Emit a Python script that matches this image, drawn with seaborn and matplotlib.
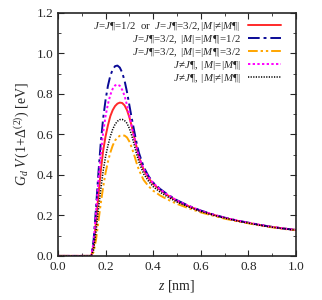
import numpy as np
import pandas as pd
import seaborn as sns
import matplotlib
matplotlib.use("Agg")
import matplotlib.pyplot as plt
from matplotlib.ticker import MultipleLocator, FormatStrFormatter

# valores
z = [0.0, 0.14, 0.15, 0.16, 0.17, 0.18, 0.19, 0.20, 0.21, 0.22, 0.23, 0.24, 0.25,
     0.26, 0.27, 0.28, 0.29, 0.30, 0.31, 0.32, 0.33, 0.34, 0.36, 0.38, 0.40, 0.43,
     0.46, 0.50, 0.55, 0.60, 0.65, 0.70, 0.76, 0.80, 0.85, 0.90, 0.95, 1.0]

rojo = [0, 0, 0.05, 0.17, 0.30, 0.42, 0.52, 0.59, 0.645, 0.69, 0.72, 0.74, 0.752,
        0.757, 0.755, 0.743, 0.72, 0.685, 0.64, 0.59, 0.54, 0.49, 0.425, 0.385, 0.355,
        0.325, 0.30, 0.272, 0.245, 0.222, 0.204, 0.188, 0.172, 0.163, 0.152, 0.143, 0.135, 0.128]
azul = [0, 0, 0.08, 0.24, 0.41, 0.56, 0.68, 0.77, 0.84, 0.89, 0.92, 0.937, 0.94,
        0.93, 0.905, 0.865, 0.81, 0.745, 0.68, 0.62, 0.56, 0.51, 0.44, 0.395, 0.362,
        0.33, 0.304, 0.275, 0.247, 0.224, 0.205, 0.189, 0.173, 0.164, 0.153, 0.143, 0.135, 0.128]
naranja = [0, 0, 0.02, 0.08, 0.17, 0.26, 0.34, 0.41, 0.465, 0.51, 0.545, 0.57, 0.585,
           0.593, 0.595, 0.594, 0.585, 0.565, 0.535, 0.50, 0.46, 0.425, 0.375, 0.345, 0.322,
           0.298, 0.279, 0.257, 0.235, 0.215, 0.199, 0.184, 0.169, 0.161, 0.15, 0.141, 0.133, 0.127]
magenta = [0, 0, 0.07, 0.22, 0.37, 0.50, 0.61, 0.69, 0.75, 0.795, 0.825, 0.842, 0.846,
           0.84, 0.82, 0.79, 0.745, 0.695, 0.64, 0.585, 0.535, 0.49, 0.43, 0.39, 0.36,
           0.328, 0.302, 0.274, 0.246, 0.223, 0.205, 0.189, 0.173, 0.164, 0.153, 0.143, 0.135, 0.128]
negro = [0, 0, 0.03, 0.12, 0.23, 0.33, 0.42, 0.49, 0.545, 0.59, 0.625, 0.65, 0.665,
         0.673, 0.674, 0.668, 0.655, 0.63, 0.595, 0.55, 0.505, 0.465, 0.405, 0.37, 0.342,
         0.314, 0.292, 0.266, 0.241, 0.219, 0.202, 0.187, 0.171, 0.162, 0.151, 0.142, 0.134, 0.127]

etiquetas = [
    r"$J\!=\!J¶\!=\!1/2$  or  $J\!=\!J¶\!=\!3/2,|M|\!\neq\!|M¶|$",
    r"$J\!=\!J¶\!=\!3/2,\ |M|\!=\!|M¶|\!=\!1/2$",
    r"$J\!=\!J¶\!=\!3/2,\ |M|\!=\!|M¶|\!=\!3/2$",
    r"$J\!\neq\!J¶,\ |M|\!=\!|M¶|$",
    r"$J\!\neq\!J¶,\ |M|\!\neq\!|M¶|$",
]
series = [rojo, azul, naranja, magenta, negro]

sns.set_theme(style="ticks")
plt.rcParams["font.family"] = ["Liberation Serif", "DejaVu Serif"]
plt.rcParams["mathtext.fontset"] = "custom"
plt.rcParams["mathtext.rm"] = "Liberation Serif"
plt.rcParams["mathtext.it"] = "Liberation Serif:italic"
plt.rcParams["mathtext.fallback"] = "stix"

estilos = [
    dict(color="#ff2a2a", linestyle="-", linewidth=1.4),
    dict(color="#0a0a96", linestyle=(0, (6, 2, 1.5, 2)), linewidth=1.4),
    dict(color="#ffa500", linestyle=(0, (5, 1.5, 1.2, 1.5, 1.2, 1.5)), linewidth=1.4),
    dict(color="#ff00ff", linestyle=(0, (1.2, 1.2)), linewidth=1.4),
    dict(color="black", linestyle=(0, (0.8, 0.9)), linewidth=1.1),
]

fig = plt.figure(figsize=(3.22, 3.0), dpi=100)
ax = fig.add_axes([0.18, 0.147, 0.739, 0.81])

for vals, lab, est in zip(series, etiquetas, estilos):
    df = pd.DataFrame({"z": z, "v": vals})
    sns.lineplot(data=df, x="z", y="v", ax=ax, label=lab, **est)

ax.set_xlim(0, 1.0)
ax.set_ylim(0, 1.2)
ax.xaxis.set_major_locator(MultipleLocator(0.2))
ax.xaxis.set_minor_locator(MultipleLocator(0.1))
ax.yaxis.set_major_locator(MultipleLocator(0.2))
ax.yaxis.set_minor_locator(MultipleLocator(0.1))
ax.xaxis.set_major_formatter(FormatStrFormatter("%.1f"))
ax.yaxis.set_major_formatter(FormatStrFormatter("%.1f"))
ax.tick_params(which="both", direction="in", top=True, right=True, labelsize=9.5)
ax.tick_params(which="major", length=4, width=0.8)
ax.tick_params(which="minor", length=2, width=0.6)
for s in ax.spines.values():
    s.set_linewidth(1.2)

ax.set_xlabel(r"$z$ [nm]", fontsize=10)
ax.set_ylabel(r"$G_d\ V\,(1\!+\!\Delta^{(2)})$ [eV]", fontsize=10)

ax.legend(loc="upper right", bbox_to_anchor=(0.965, 1.0), frameon=False, fontsize=7.8,
          markerfirst=False, handlelength=3.0, labelspacing=0.0, borderaxespad=0.25,
          handletextpad=0.7)

fig.savefig("out.png", dpi=100)
